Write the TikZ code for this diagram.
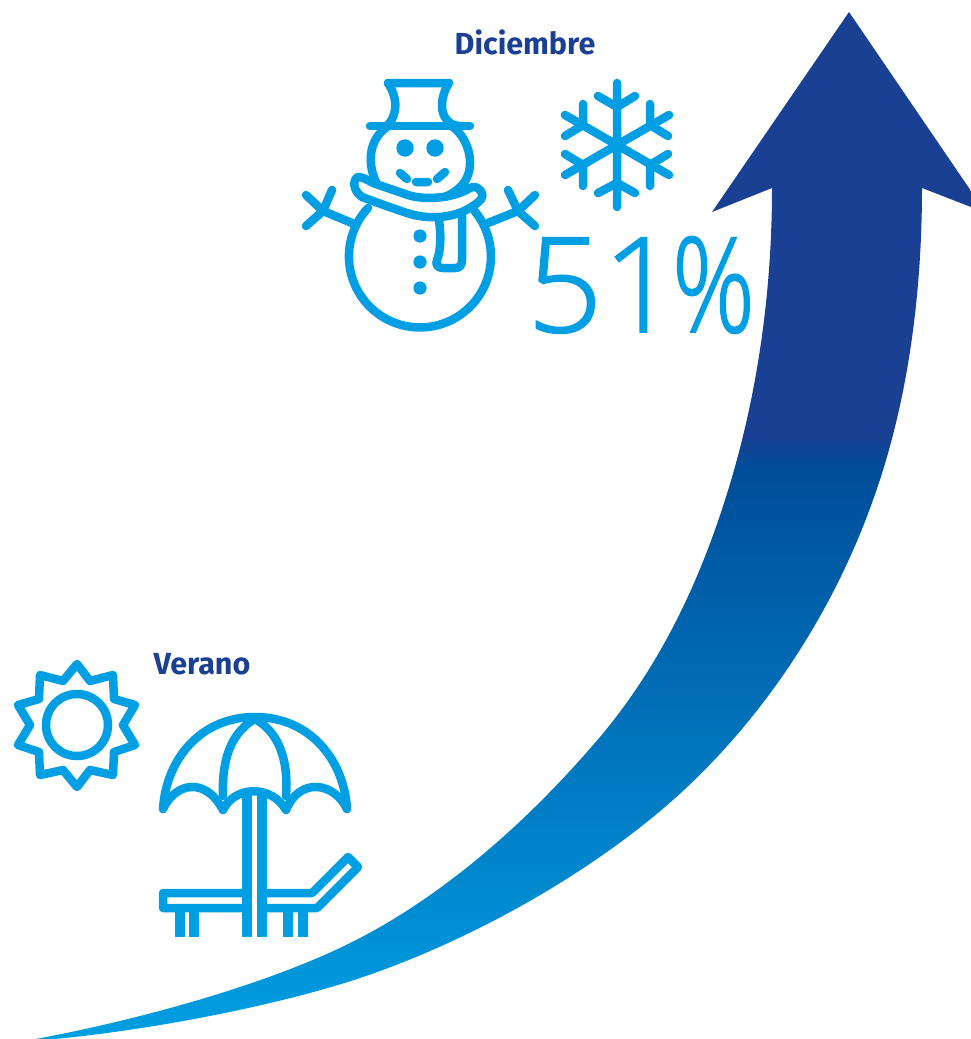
\documentclass[tikz,border=0pt]{standalone}
\usepackage{fontspec}
\setmainfont{Fira Sans}
\newfontfamily\lightf[UprightFont={* Light},FakeBold=1.3]{Open Sans}
\definecolor{ice}{HTML}{009FE3}
\definecolor{navy}{HTML}{1A4094}
\definecolor{midblue}{HTML}{004D99}
\pgfdeclareverticalshading{arrowgrad}{100bp}{
 color(0bp)=(ice); color(25bp)=(ice);
 color(52.9bp)=(midblue);
 color(54.4bp)=(navy); color(75bp)=(navy); color(100bp)=(navy)}
\tikzset{ico/.style={draw=ice,line width=8.5pt,line join=round,line cap=round},
 icob/.style={draw=ice,line width=9.2pt,line join=miter,line cap=butt},
 dotty/.style={fill=ice},
 head/.style={text=navy,font=\bfseries\fontsize{30.5}{33}\selectfont,inner sep=0pt}}
\begin{document}
\begin{tikzpicture}[x=1pt,y=-1pt]
\useasboundingbox (0,0) rectangle (971,1039);
\begin{scope}
\clip (0,0) rectangle (971,1039);
\path[shading=arrowgrad] (849,12) -- (971,191) -- (971,207) -- (922,188)
 .. controls (922,290) and (909,400) .. (873,500)
 .. controls (833,613) and (763,720) .. (673,800)
 .. controls (588,875) and (470,941) .. (360,978)
 .. controls (270,1008) and (130,1034) .. (30,1041)
 -- (30,1040)
 .. controls (130,1022) and (270,985) .. (360,938)
 .. controls (450,891) and (532,817) .. (600,737)
 .. controls (658,668) and (697,588) .. (725,500)
 .. controls (758,397) and (772,290) .. (772,188)
 -- (712,212) -- cycle;
\end{scope}
\node[head] (dic) at (525,42) {Diciembre};
\node[head] (ver) at (202,664) {Verano};
\node[text=ice,font=\lightf\fontsize{132}{132}\selectfont,inner sep=0pt,anchor=base west] (pct) at (527,332) {51\kern-6pt\scalebox{.78}[1]{\%}};
% snowman
\draw[ico] (388,83) .. controls (397,97) and (399,113) .. (387,126);
\draw[ico] (388,83) -- (449,83) .. controls (440,97) and (440,113) .. (447,120) .. controls (450,124) and (455,126) .. (460,126);
\draw[ico] (370,126) -- (470,126);
\draw[ico] (387,127) .. controls (368,140) and (367,165) .. (377,184);
\draw[ico] (453,127) .. controls (470,140) and (476,168) .. (463,184) .. controls (458,190) and (452,194) .. (445,197);
\draw[ico] (373,183) .. controls (366,179) and (362,177) .. (358,177) .. controls (353,179) and (352,190) .. (362,197) .. controls (378,203) and (392,208) .. (407,213) .. controls (428,220) and (452,218) .. (468,209) .. controls (480,202) and (486,197) .. (480,190) .. controls (477,187) and (474,186) .. (470,188) .. controls (450,200) and (420,200) .. (405,194) -- (373,183);
\draw[ico] (368,208) arc[start angle=137,end angle=399.5,radius=71pt];
\draw[ico] (439,220) .. controls (441,235) and (441,250) .. (437,260) .. controls (435,265) and (438,268) .. (443,268) -- (455,268) .. controls (460,268) and (462,265) .. (462,260) -- (462,216);
\fill[dotty] (405,148) circle (8.7pt) (435,148) circle (8.7pt) (420,236) circle (6.6pt) (420,262) circle (6.6pt) (420,288) circle (6.6pt);
\draw[ico] (400,173) -- (407,179) (416,182) -- (428,182) (437,179) -- (445,172);
\draw[ico] (352,223) -- (323,211) (306,195) -- (323,211) -- (306,226) (323,211) -- (332,190);
\draw[ico] (488,223) -- (518,211) (535,195) -- (518,211) -- (535,226) (518,211) -- (508,190);
% snowflake
\draw[ico] (617,83) -- (617,207) (565,115) -- (669,175) (565,175) -- (669,115);
\draw[ico] (598,96) -- (617,107) -- (635,96) (598,193) -- (617,183) -- (635,193);
\draw[ico] (583,104) -- (583,125) -- (565,136) (650,104) -- (650,125) -- (668,136);
\draw[ico] (565,154) -- (583,165) -- (583,186) (668,154) -- (650,165) -- (650,186);
% sun
\draw[ico] (77,664) -- (90,681) -- (113,675) -- (114,699) -- (135,705) -- (123,725) -- (135,745) -- (114,752) -- (113,775) -- (90,770) -- (77,787) -- (63,770) -- (40,775) -- (39,752) -- (18,745) -- (30,725) -- (18,705) -- (39,699) -- (40,675) -- (63,681) -- cycle;
\draw[ice,line width=8.5pt] (77,725) circle (31pt);
% umbrella
\draw[ico] (163,809) .. controls (166,760) and (200,717) .. (255,717) .. controls (310,717) and (344,760) .. (347,809);
\draw[ico] (163,809) .. controls (175,783) and (205,776) .. (223,810) .. controls (235,785) and (272,785) .. (286,810) .. controls (300,776) and (335,783) .. (347,809);
\draw[ico] (223,796) .. controls (222,770) and (226,735) .. (255,719) .. controls (284,735) and (288,770) .. (286,796);
\draw[icob] (247,795) -- (247,937) (262,795) -- (262,937);
% lounger
\draw[ico] (247,893) -- (163,893) -- (163,908) -- (247,908) (262,893) -- (312,893) -- (348,857) -- (358,867) -- (317,908) -- (262,908);
\draw[icob] (180,908) -- (180,937) (194,908) -- (194,937) (288,908) -- (288,937) (303,908) -- (303,937);
\end{tikzpicture}
\end{document}
